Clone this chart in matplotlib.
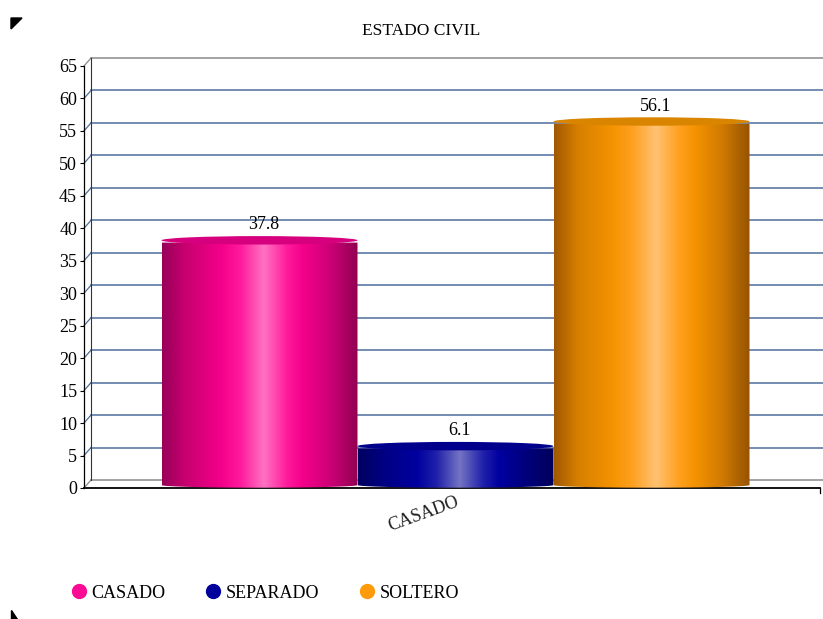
import numpy as np
import matplotlib
matplotlib.use('Agg')
import matplotlib.pyplot as plt
from matplotlib.colors import LinearSegmentedColormap
from matplotlib.patches import Ellipse, PathPatch, Polygon
from matplotlib.path import Path
from matplotlib.lines import Line2D

plt.rcParams['font.family'] = ['Liberation Serif', 'DejaVu Serif']

title = 'ESTADO CIVIL'
categories = ['CASADO', 'SEPARADO', 'SOLTERO']
values = [37.8, 6.1, 56.1]
xlabel = 'CASADO'
yticks = list(range(0, 70, 5))

legend_colors = ['#fb0a93', '#00009a', '#ff9a0a']
top_colors = ['#d6007e', '#00008c', '#da8500']
shades = [
    ['#98005a', '#c8006f', '#f4008a', '#ff1a9c', '#ff72c2', '#ff1a9c', '#f4008a', '#cc0076', '#920052'],
    ['#000060', '#000080', '#0000a0', '#2020aa', '#7474c4', '#2020aa', '#0000a0', '#00007c', '#00005a'],
    ['#a05800', '#d67f00', '#f59300', '#ffa020', '#ffc272', '#ffa020', '#f59300', '#d07a00', '#965300'],
]
stops = [0.0, 0.12, 0.3, 0.4, 0.52, 0.64, 0.72, 0.86, 1.0]

W, H = 823, 619
fig = plt.figure(figsize=(W / 100, H / 100), dpi=100)

# plot area in pixels
left, right, bottom, top = 84, 820, 488, 66
ax = fig.add_axes([left / W, 1 - bottom / H, (right - left) / W, (bottom - top) / H])

xmin = -(259.5 - left) / 196
xmax = xmin + (right - left) / 196
ymax = 65
ux = (xmax - xmin) / (right - left)   # data units per pixel
uy = ymax / (bottom - top)
dx, dy = 7 * ux, 8 * uy                 # depth of back wall

grid_blue = '#4d6e9c'
wall_gray = '#8a8a8a'

# back wall grid lines and side connectors
x_back = xmin + dx
x_end = xmax + 4 * ux
for v in yticks:
    if v == 0 or v == ymax:
        col = wall_gray
    else:
        col = grid_blue
    ax.plot([x_back, x_end], [v + dy, v + dy], color=col, lw=1.1, clip_on=False, zorder=1)
    ax.plot([xmin, x_back], [v, v + dy], color=col, lw=0.9, clip_on=False, zorder=1)
ax.plot([x_back, x_back], [dy, ymax + dy], color='#333333', lw=0.8, clip_on=False, zorder=1)

# cylinder bars
for i, (cat, val) in enumerate(zip(categories, values)):
    x0, x1 = i - 0.5, i + 0.5
    cmap = LinearSegmentedColormap.from_list(cat, list(zip(stops, shades[i])))
    grad = np.linspace(0, 1, 256)[None, :]
    im = ax.imshow(grad, cmap=cmap, extent=[x0, x1, 0, val], aspect='auto',
                   origin='lower', zorder=3, interpolation='bilinear')
    yb, hb = 0.45, 0.4
    t = np.linspace(np.pi, 2 * np.pi, 60)
    arc = np.column_stack([i + 0.5 * np.cos(t), yb + hb * np.sin(t)])
    verts = np.vstack([[x0, val], [x0, yb], arc, [x1, yb], [x1, val], [x0, val]])
    clip = PathPatch(Path(verts), transform=ax.transData, facecolor='none', edgecolor='none')
    ax.add_patch(clip)
    im.set_clip_path(clip)
    ax.add_patch(Ellipse((i, val + 0.35), 1.0, 1.3, facecolor=top_colors[i],
                         edgecolor='none', zorder=4))
    ax.annotate(f'{val}', (i, val + 1.0), xytext=(3, 2), textcoords='offset points',
                ha='center', va='bottom', fontsize=13, zorder=5)

ax.set_xlim(xmin, xmax)
ax.set_ylim(0, ymax)
for s in ['top', 'right']:
    ax.spines[s].set_visible(False)
ax.spines['left'].set_color('black')
ax.spines['bottom'].set_color('black')
ax.spines['left'].set_linewidth(0.9)
ax.spines['bottom'].set_linewidth(1.3)
ax.set_yticks(yticks)
ax.tick_params(axis='y', length=3, width=0.8, pad=2, labelsize=13)
ax.set_xticks([1])
ax.set_xticklabels([xlabel], rotation=20, ha='right', va='top',
                   rotation_mode='anchor', fontsize=13, color='#222222')
ax.tick_params(axis='x', length=0, pad=4)
ax.plot([xmax, xmax], [0, -5 * uy], color='black', lw=0.9, clip_on=False)

fig.text(421 / W, 1 - 31 / H, title, ha='center', va='center', fontsize=12.5)

handles = [Line2D([], [], marker='o', ls='none', markersize=10,
                  markerfacecolor=c, markeredgecolor=c) for c in legend_colors]
fig.legend(handles, categories, loc='center left', bbox_to_anchor=(69.5 / W, 1 - 593 / H),
           ncol=3, frameon=False, fontsize=13, handlelength=1.0, handletextpad=0.2,
           columnspacing=2.15, borderpad=0, borderaxespad=0)

# corner marks
fig.add_artist(Polygon([[11 / W, 1 - 18 / H], [22 / W, 1 - 18 / H], [11 / W, 1 - 29 / H]],
                       closed=True, transform=fig.transFigure, color='black'))
fig.add_artist(Polygon([[11 / W, 1 - 610 / H], [11 / W, 0], [17 / W, 0]],
                       closed=True, transform=fig.transFigure, color='black'))

fig.savefig('out.png', dpi=100)
